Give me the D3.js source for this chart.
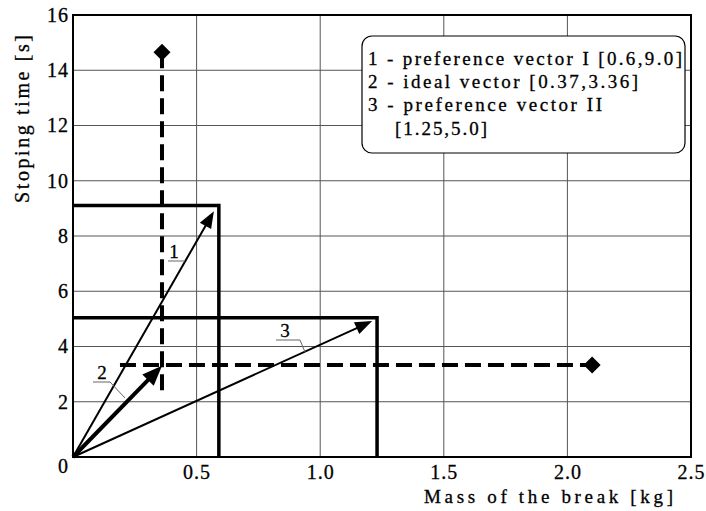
<!DOCTYPE html>
<html>
<head>
<meta charset="utf-8">
<script src="https://cdn.jsdelivr.net/npm/d3@7"></script>
</head>
<body style="margin:0">
<svg id="chart" width="706" height="511" font-family="Liberation Serif"></svg>
<script>
// axis ticks
const xTicks = [0.5, 1.0, 1.5, 2.0, 2.5];
const yTicks = [2, 4, 6, 8, 10, 12, 14, 16];

// vectors 1..3 (tip of arrow)
const vecIds = ['1', '2', '3'];
const vecX = [0.57, 0.36, 1.21];
const vecY = [8.9, 3.3, 4.92];
const vecWidth = [2, 4, 2];

// preference rectangles (corner points)
const boxX = [0.59, 1.23];
const boxY = [9.1, 5.04];

// dashed ideal lines: vertical at x, horizontal at y, end diamonds
const dashX = 0.36, dashYFrom = 2.2, dashYTo = 14.65;
const dashY = 3.33, dashXFrom = 0.19, dashXTo = 2.1;

const legendLines = [
  '1 - preference vector I [0.6,9.0]',
  '2 - ideal vector  [0.37,3.36]',
  '3 - preference vector  II',
  '[1.25,5.0]'
];

const FONT = 'Liberation Serif';
const W = 706, H = 511;
const margin = {left: 73, top: 15, right: 15, bottom: 54};
const svg = d3.select('#chart');

const x = d3.scaleLinear().domain([0, 2.5]).range([margin.left, W - margin.right]);
const y = d3.scaleLinear().domain([0, 16]).range([H - margin.bottom, margin.top]);

// grid
const grid = svg.append('g').attr('stroke', '#555').attr('stroke-width', 1);
grid.selectAll('line.gx').data(xTicks.slice(0, -1)).enter().append('line')
    .attr('x1', d => x(d)).attr('x2', d => x(d))
    .attr('y1', y(0)).attr('y2', y(16));
grid.selectAll('line.gy').data(yTicks.slice(0, -1)).enter().append('line')
    .attr('y1', d => y(d)).attr('y2', d => y(d))
    .attr('x1', x(0)).attr('x2', x(2.5));

// axes (labels only, frame drawn below)
const xAxis = svg.append('g')
    .attr('transform', `translate(0,${y(0)})`)
    .call(d3.axisBottom(x).tickValues(xTicks).tickSize(0).tickPadding(8).tickFormat(d3.format('.1f')));
const yAxis = svg.append('g')
    .attr('transform', `translate(${x(0)},0)`)
    .call(d3.axisLeft(y).tickValues(yTicks).tickSize(0).tickPadding(4).tickFormat(d3.format('d')));
[xAxis, yAxis].forEach(a => {
  a.select('.domain').remove();
  a.attr('font-family', FONT).attr('font-size', 20);
  a.selectAll('text').attr('fill', '#000').attr('stroke', '#000').attr('stroke-width', 0.3)
      .attr('letter-spacing', 1);
});
svg.append('text').attr('x', x(0) - 10).attr('y', y(0) + 16)
    .attr('text-anchor', 'middle').attr('font-family', FONT).attr('font-size', 20)
    .attr('stroke', '#000').attr('stroke-width', 0.3).text('0');

// frame
svg.append('rect')
    .attr('x', x(0)).attr('y', y(16))
    .attr('width', x(2.5) - x(0)).attr('height', y(0) - y(16))
    .attr('fill', 'none').attr('stroke', '#000').attr('stroke-width', 2);

// rectangles
svg.selectAll('path.box').data(boxX).enter().append('path')
    .attr('d', (d, i) => `M${x(0)},${y(boxY[i])}L${x(d)},${y(boxY[i])}L${x(d)},${y(0)}`)
    .attr('fill', 'none').attr('stroke', '#000').attr('stroke-width', 3.5);

// dashed ideal lines
const dash = svg.append('g').attr('stroke', '#000').attr('stroke-width', 4)
    .attr('stroke-dasharray', '16,7').attr('fill', 'none');
dash.append('line').attr('x1', x(dashX)).attr('x2', x(dashX))
    .attr('y1', y(dashYTo)).attr('y2', y(dashYFrom));
dash.append('line').attr('x1', x(dashXFrom)).attr('x2', x(dashXTo))
    .attr('y1', y(dashY)).attr('y2', y(dashY));

const diamond = (cx, cy, r) => `M${cx},${cy - r}L${cx + r},${cy}L${cx},${cy + r}L${cx - r},${cy}Z`;
svg.append('path').attr('d', diamond(x(dashX), y(dashYTo), 8.5));
svg.append('path').attr('d', diamond(x(dashXTo), y(dashY), 8.5));

// vectors
vecIds.forEach((id, i) => {
  const x0 = x(0), y0 = y(0), x1 = x(vecX[i]), y1 = y(vecY[i]);
  const len = Math.hypot(x1 - x0, y1 - y0);
  const ux = (x1 - x0) / len, uy = (y1 - y0) / len;
  const hl = i === 1 ? 20 : 17, hw = i === 1 ? 8 : 6.5;
  const bx = x1 - ux * hl, by = y1 - uy * hl;
  svg.append('line').attr('x1', x0).attr('y1', y0).attr('x2', bx + ux * 2).attr('y2', by + uy * 2)
      .attr('stroke', '#000').attr('stroke-width', vecWidth[i]);
  svg.append('path')
      .attr('d', `M${x1},${y1}L${bx - uy * hw},${by + ux * hw}L${bx + uy * hw},${by - ux * hw}Z`);
});

// vector labels with underline and leader
const labels = [
  {t: '1', tx: 174, ty: 258, u: [168, 185], uy: 261, lead: null},
  {t: '2', tx: 102, ty: 379, u: [93, 110], uy: 382, lead: [125, 398]},
  {t: '3', tx: 285, ty: 337, u: [276, 300], uy: 340, lead: [305, 352]}
];
labels.forEach(l => {
  svg.append('text').attr('x', l.tx).attr('y', l.ty).attr('text-anchor', 'middle')
      .attr('font-family', FONT).attr('font-size', 19)
      .attr('stroke', '#000').attr('stroke-width', 0.3).text(l.t);
  let d = `M${l.u[0]},${l.uy}L${l.u[1]},${l.uy}`;
  if (l.lead) d += `L${l.lead[0]},${l.lead[1]}`;
  svg.append('path').attr('d', d).attr('fill', 'none').attr('stroke', '#666').attr('stroke-width', 1);
});

// legend
svg.append('rect').attr('x', 362).attr('y', 36).attr('width', 323).attr('height', 117)
    .attr('rx', 10).attr('fill', '#fff').attr('stroke', '#000').attr('stroke-width', 1.2);
const legX = [368, 368, 368, 395];
const legY = [65, 88, 111, 135];
const legLen = [314, 270, 234, 92];
svg.selectAll('text.leg').data(legendLines).enter().append('text')
    .attr('class', 'leg')
    .attr('x', (d, i) => legX[i]).attr('y', (d, i) => legY[i])
    .attr('font-family', FONT).attr('font-size', 19)
    .attr('stroke', '#000').attr('stroke-width', 0.3)
    .attr('textLength', (d, i) => legLen[i]).attr('lengthAdjust', 'spacing')
    .text(d => d);

// axis titles
svg.append('text').attr('x', 424).attr('y', 503)
    .attr('font-family', FONT).attr('font-size', 19)
    .attr('stroke', '#000').attr('stroke-width', 0.3)
    .attr('textLength', 249).attr('lengthAdjust', 'spacing').text('Mass of the break [kg]');
svg.append('text').attr('transform', 'translate(29,203) rotate(-90)')
    .attr('font-family', FONT).attr('font-size', 20)
    .attr('stroke', '#000').attr('stroke-width', 0.3)
    .attr('textLength', 168).attr('lengthAdjust', 'spacing')
    .text('Stoping time [s]');
</script>
</body>
</html>
